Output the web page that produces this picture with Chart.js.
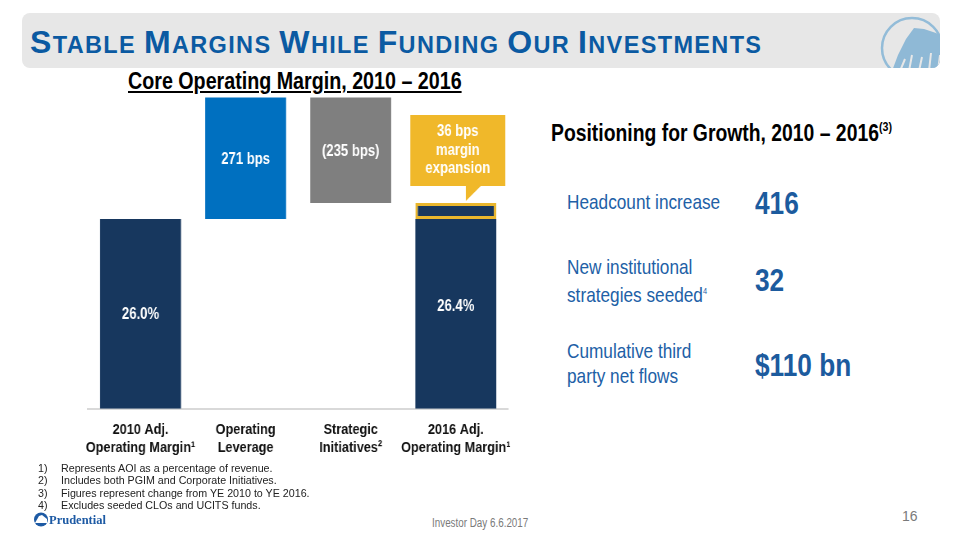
<!DOCTYPE html>
<html>
<head>
<meta charset="utf-8">
<script src="https://cdn.jsdelivr.net/npm/chart.js@4.4.1/dist/chart.umd.min.js"></script>
<style>
  body { margin: 0; width: 960px; height: 540px; background: #fff; position: relative; overflow: hidden;
         font-family: "Liberation Sans", Arial, sans-serif; }
  .abs { position: absolute; line-height: 1; white-space: nowrap; }
  /* Liberation Sans squeezed to stand in for Arial Narrow */
  .narrow { transform: scaleX(0.82); transform-origin: 0 0; }
  #header { left: 22px; top: 13px; width: 918px; height: 55px; background: #e7e7e7; border-radius: 8px; overflow: hidden; }
  #title { left: 8px; top: 13px; color: #0b5aa2; font-weight: bold; font-size: 23.5px; letter-spacing: 1.35px; }
  #title b { font-size: 32px; }
  #logo { left: 856px; top: 2px; }
  #subtitle { left: 128px; top: 69px; font-size: 24px; font-weight: bold; text-decoration: underline; color: #000; }
  #chartBox { left: 78px; top: 90px; width: 537px; height: 379px; }
  #growth { left: 551px; top: 120px; font-size: 23.6px; font-weight: bold; color: #000; }
  #growth sup { font-size: 13px; font-weight: bold; vertical-align: 10px; }
  .stat { color: #2160a6; font-size: 21px; line-height: 25px; }
  .stat sup { font-size: 9px; vertical-align: 8px; }
  .num { color: #1c5b9e; font-size: 32px; font-weight: bold; }
  #notes { left: 38px; top: 462px; font-size: 10.7px; color: #222; line-height: 12.4px; }
  #notes div span { display: inline-block; width: 23px; }
  #brand { left: 33px; top: 512px; color: #1d5aa4; font-family: "Liberation Serif", "DejaVu Serif", serif; font-weight: bold; font-size: 12.5px; }
  #investor { left: 432px; top: 517px; font-size: 12px; color: #7a7a7a; }
  #page { left: 902px; top: 509px; font-size: 14px; color: #7a7a7a; }
</style>
</head>
<body>
<div id="header" class="abs">
  <div id="title" class="abs"><b>S</b>TABLE <b>M</b>ARGINS <b>W</b>HILE <b>F</b>UNDING <b>O</b>UR <b>I</b>NVESTMENTS</div>
  <svg id="logo" class="abs" width="70" height="56" viewBox="0 0 70 56">
    <circle cx="34" cy="33" r="30" fill="none" stroke="#93bcd8" stroke-width="2.5"/>
    <path d="M14 56 L20 40 L28 24 L36 13 L46 14 L58 18 L66 22 L70 26 L70 56 Z" fill="#8fb9d6"/>
    <path d="M22 56 L27 44 M31 56 L34 40 M41 56 L44 42 M51 56 L53 38 M60 56 L62 40" stroke="#e7e7e7" stroke-width="2"/>
  </svg>
</div>
<div id="subtitle" class="abs narrow">Core Operating Margin, 2010 – 2016</div>

<div id="chartBox" class="abs narrow"><canvas id="marginChart"></canvas></div>

<div id="growth" class="abs narrow">Positioning for Growth, 2010 – 2016<sup>(3)</sup></div>
<div class="abs narrow stat" style="left:567px; top:189px;">Headcount increase</div>
<div class="abs narrow num" style="left:755px; top:187px;">416</div>
<div class="abs narrow stat" style="left:567px; top:254px;">New institutional<br>strategies seeded<sup>4</sup></div>
<div class="abs narrow num" style="left:755px; top:264px;">32</div>
<div class="abs narrow stat" style="left:567px; top:338px;">Cumulative third<br>party net flows</div>
<div class="abs narrow num" style="left:755px; top:349px;">$110 bn</div>

<div id="notes" class="abs">
  <div><span>1)</span>Represents AOI as a percentage of revenue.</div>
  <div><span>2)</span>Includes both PGIM and Corporate Initiatives.</div>
  <div><span>3)</span>Figures represent change from YE 2010 to YE 2016.</div>
  <div><span>4)</span>Excludes seeded CLOs and UCITS funds.</div>
</div>
<div id="brand" class="abs">
  <svg width="16" height="15" viewBox="0 0 16 15" style="vertical-align:-3px"><circle cx="8" cy="7.5" r="7" fill="#1d5aa4"/><path d="M2 11 L6 4 L9 3 L14 7 L14 11 Z" fill="#fff"/></svg>Prudential
</div>
<div id="investor" class="abs narrow">Investor Day 6.6.2017</div>
<div id="page" class="abs">16</div>

<script>
document.addEventListener('DOMContentLoaded', () => {
    const categories = [
        ['2010 Adj.', 'Operating Margin¹'],
        ['Operating', 'Leverage'],
        ['Strategic', 'Initiatives²'],
        ['2016 Adj.', 'Operating Margin¹']
    ];
    const startMargin = 26.0;          // %
    const changesBps = [271, -235];    // operating leverage, strategic initiatives
    const endMargin = 26.36;           // %
    const barLabels = ['26.0%', '271 bps', '(235 bps)', '26.4%'];
    const calloutLines = ['36 bps', 'margin', 'expansion'];

    const yMin = 21.77;
    const yMax = 28.88;

    const navy = '#17375e';
    const blue = '#0070c0';
    const grey = '#7f7f7f';
    const gold = '#f0b82a';

    // canvas is squeezed horizontally by css, so x offsets are divided by this
    const squeeze = 0.82;

    // waterfall: base bars + floating change bars
    const afterLev = startMargin + changesBps[0] / 100;
    const afterStrat = afterLev + changesBps[1] / 100;
    const baseData = [[yMin, startMargin], null, null, [yMin, startMargin]];
    const stepData = [null, [startMargin, afterLev], [afterLev, afterStrat], [startMargin, endMargin]];

    const font = '"Liberation Sans", Arial, sans-serif';

    const labelPlugin = {
        id: 'barText',
        afterDatasetsDraw(chart) {
            const ctx = chart.ctx;
            const sets = chart.data.datasets;
            ctx.save();
            ctx.fillStyle = '#fff';
            ctx.font = 'bold 16px ' + font;
            ctx.textAlign = 'center';
            ctx.textBaseline = 'middle';
            barLabels.forEach((txt, i) => {
                let top = Infinity, bottom = -Infinity, x = 0;
                sets.forEach((ds, d) => {
                    if (!ds.data[i]) return;
                    const b = chart.getDatasetMeta(d).data[i];
                    top = Math.min(top, b.y, b.base);
                    bottom = Math.max(bottom, b.y, b.base);
                    x = b.x;
                });
                ctx.fillText(txt, x, (top + bottom) / 2 + 1);
            });

            // callout above the 2016 increment
            const hb = chart.getDatasetMeta(1).data[3];
            const cx = hb.x + 2 / squeeze;
            const half = 47.5 / squeeze;
            const h = 71;
            const bottomY = hb.y - 17;
            const topY = bottomY - h;
            ctx.fillStyle = gold;
            ctx.beginPath();
            ctx.moveTo(cx - half, topY);
            ctx.lineTo(cx + half, topY);
            ctx.lineTo(cx + half, bottomY);
            ctx.lineTo(cx + 23 / squeeze, bottomY);
            ctx.lineTo(cx + 8 / squeeze, hb.y - 2);
            ctx.lineTo(cx + 8 / squeeze, bottomY);
            ctx.lineTo(cx - half, bottomY);
            ctx.closePath();
            ctx.fill();
            ctx.fillStyle = '#fff';
            calloutLines.forEach((line, k) => {
                ctx.fillText(line, cx, topY + 17 + k * 18.5);
            });
            ctx.restore();
        }
    };

    new Chart(document.getElementById('marginChart'), {
        type: 'bar',
        data: {
            labels: categories,
            datasets: [{
                data: baseData,
                backgroundColor: navy,
                grouped: false,
                barPercentage: 0.77,
                categoryPercentage: 1
            }, {
                data: stepData,
                backgroundColor: [navy, blue, grey, navy],
                borderColor: [navy, blue, grey, '#e9b62d'],
                borderWidth: [0, 0, 0, 3],
                borderSkipped: false,
                grouped: false,
                barPercentage: 0.77,
                categoryPercentage: 1
            }]
        },
        options: {
            responsive: true,
            maintainAspectRatio: false,
            animation: false,
            layout: { padding: { left: 10 / squeeze, right: 10 / squeeze, top: 0, bottom: 0 } },
            plugins: {
                legend: { display: false },
                tooltip: { enabled: false }
            },
            scales: {
                x: {
                    grid: { display: false, drawTicks: false },
                    border: { color: '#d9d9d9', width: 2 },
                    afterFit(scale) {
                        scale.paddingLeft = 0;
                        scale.paddingRight = 0;
                    },
                    ticks: {
                        color: '#111',
                        padding: 12,
                        maxRotation: 0,
                        autoSkip: false,
                        font: { family: font, size: 15.5, weight: 'bold', lineHeight: 1.17 }
                    }
                },
                y: {
                    display: false,
                    min: yMin,
                    max: yMax
                }
            }
        },
        plugins: [labelPlugin]
    });
});
</script>
</body>
</html>
